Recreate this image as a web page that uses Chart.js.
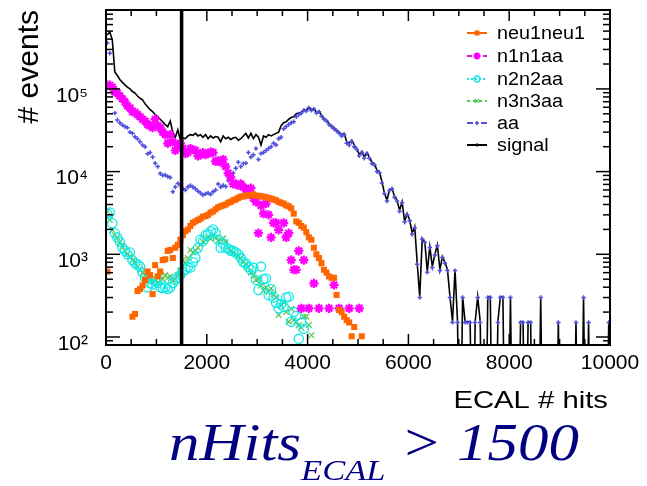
<!DOCTYPE html>
<html>
<head>
<meta charset="utf-8">
<script src="https://cdn.jsdelivr.net/npm/chart.js@4.4.1/dist/chart.umd.min.js"></script>
<style>
  html, body { margin: 0; padding: 0; background: #fff; }
  #wrap { position: relative; width: 647px; height: 486px; }
  #cut {
    position: absolute; left: 169px; top: 412px;
    font: italic 53px "Liberation Serif", "Times New Roman", serif;
    color: #000080; white-space: nowrap; line-height: 61px;
    transform: scaleX(1.15); transform-origin: left top;
  }
  #cut sub { font-size: 30px; vertical-align: baseline; position: relative; top: 20px; }
</style>
</head>
<body>
<div id="wrap">
  <canvas id="chart" width="647" height="486"></canvas>
  <div id="cut">nHits<sub>ECAL</sub> &gt; 1500</div>
</div>
<script>
// histogram bins: 50 hits wide, first bin centred at 25
var binStart = 25;
var binWidth = 50;
var cutHits = 1500;
var xTicks = [0, 2000, 4000, 6000, 8000, 10000];
var yTicks = [100, 1000, 10000, 100000];
// empty bins can't sit on a log axis: draw them far below the frame (clipped)
var emptyBin = 1;

var neu1neu1 = [
  617, null, null, null, null, null, null, null, null, null,
  176, 190, 360, 380, 420, 490, 620, 560, 330, 740,
  540, 620, 850, 870, 1100, 1130, 900, 1200, 1300, 1500,
  1700, 1900, 2000, 2200, 2400, 2500, 2600, 2700, 2850, 2900,
  3000, 3200, 3300, 3500, 3700, 3800, 3900, 4000, 4200, 4300,
  4500, 4600, 4800, 5000, 5000, 5100, 5200, 5200, 5300, 5100,
  5100, 5000, 5000, 4900, 4800, 4700, 4600, 4500, 4300, 4200,
  4100, 3900, 3800, 3600, 3100, 2500, 2400, 2200, 2100, 1850,
  1600, 1500, 1200, 1000, 900, 780, 650, 600, 540, 520,
  520, 322, 212, 200, 176, 160, 150, 102, 132, null,
  null, 102
];

var n1n1aa = [
  1.11e5, 1.11e5, 1.05e5, 9.2e4, 8.9e4, 8.2e4, 7.6e4, 7.0e4, 6.2e4, 5.9e4,
  5.3e4, 5.2e4, 4.9e4, 4.6e4, 4.3e4, 4.1e4, 3.7e4, 3.6e4, 3.4e4, 4.3e4,
  3.6e4, 3.4e4, 3.0e4, 2.8e4, 2.2e4, 2.8e4, 2.3e4, 1.8e4, 2.1e4, 2.2e4,
  1.9e4, 1.65e4, 1.7e4, 1.9e4, 1.85e4, 1.8e4, 1.55e4, 1.6e4, 1.7e4, 1.6e4,
  1.65e4, 1.73e4, 1.7e4, 1.33e4, 1.35e4, 1.3e4, 1.4e4, 1.15e4, 9600, 8500,
  7100, 7100, 6800, 7100, 6500, 6100, 6000, 6300, 4800, 4300,
  1800, 3900, 3100, 4100, 3000, 1600, 2400, 2400, 1970, null,
  2400, 1600, 1800, 850, 650, 650, 1100, 222, 850, null,
  222, null, 445, null, 222, null, null, null, 222, null,
  425, null, 222, null, null, null, 222, null, null, null,
  222
];

var n2n2aa = [
  3100, 3200, 2370, 1800, 1600, 1420, 1200, 1100, 1000, 1050,
  850, 780, 760, 710, 600, 515, 400, 450, 430, 480,
  450, 400, 390, 400, 380, 400, 450, 490, 520, 560,
  620, 650, 700, 690, 800, 900, 1200, 1500, 1450, 1700,
  1750, 1900, 2000, 1800, 1500, 1200, 1350, 1200, 1170, 1100,
  1100, 1050, 1000, 900, 800, 780, 700, 650, 690, 490,
  370, 710, 500, 510, 322, 380, 300, 260, 222, 250,
  230, 300, 307, 153, 200, 180, 95, 150, 126
];

var n3n3aa = [
  3300, 2600, 1970, 1700, 1600, 1400, 1250, 1100, 1000, 950,
  850, 800, 700, 650, 600, 560, 520, 480, 470, 500,
  450, 540, 500, 560, 520, 540, 480, 500, 560, 640,
  853, 780, 900, 1130, 1050, 1100, 1200, 1300, 1420, 1500,
  1600, 1550, 1650, 1600, 1450, 1500, 1560, 1400, 1200, 1100,
  1050, 1000, 950, 900, 800, 760, 700, 600, 560, 490,
  500, 420, 365, 400, 350, 387, 330, 300, 185, 240,
  260, 200, 153, 220, 160, 153, 140, 130, 176, 176,
  140, 105
];

var aa = [
  3.6e5, 2.7e5, 1.1e5, 5.1e4, 4.2e4, 3.9e4, 3.66e4, 3.5e4, 3.4e4, 3.0e4,
  2.9e4, 2.64e4, 2.5e4, 2.3e4, 2.1e4, 2.0e4, 1.64e4, 1.7e4, 1.5e4, 1.26e4,
  1.15e4, 9500, 9000, 9100, 8700, 8500, 5700, 6500, 7200, 6800,
  6200, 6000, 6500, 6800, 6500, 6200, 5800, 5500, 5200, 5400,
  5500, 5300, 5700, 6000, 7100, 6500, 6800, 6600, 7800, 8500,
  9600, 1.1e4, 1.3e4, 1.15e4, 1.25e4, 1.26e4, 1.7e4, 1.5e4, 1.6e4, 1.9e4,
  1.4e4, 1.65e4, 1.7e4, 1.8e4, 1.9e4, 2.0e4, 2.2e4, 2.1e4, 2.5e4, 2.6e4,
  3.3e4, 3.5e4, 3.7e4, 3.9e4, 4.0e4, 4.6e4, 4.9e4, 5.1e4, 5.5e4, 5.4e4,
  5.9e4, 5.5e4, 5.7e4, 5.1e4, 5.3e4, 4.7e4, 4.3e4, 4.1e4, 3.7e4, 3.5e4,
  3.3e4, 3.1e4, 2.9e4, 2.7e4, 2.8e4, 2.2e4, 2.1e4, 2.3e4, 2.0e4, 1.85e4,
  1.55e4, 1.7e4, 1.45e4, 1.65e4, 1.45e4, 1.25e4, 1.2e4, 1.0e4, 9700, 7300,
  5400, 4400, 5900, 6200, 4900, 4400, 3300, 4200, 2450, 3000,
  2550, 1750, 2100, 760, 300, 1520, 1390, 605, 1210, 690,
  980, 1270, 635, 915, 780, 635, 300, 150, 635, 150,
  null, 300, 150, 150, 150, null, 150, 300, 150, null,
  null, 300, 300, null, null, 150, 300, 300, null, null,
  300, null, null, null, 150, 150, null, 150, 150, null,
  null, null, 300, null, null, null, null, null, null, 150,
  null, null, null, null, null, null, 150, null, null, 300,
  null, 150, null, null, null, null, null, null, null, 150
];

var signal = [
  4.5e5, 4.9e5, 3.9e5, 1.6e5, 1.45e5, 1.3e5, 1.2e5, 1.12e5, 1.05e5, 1.0e5,
  9.3e4, 8.9e4, 8.2e4, 7.7e4, 7.4e4, 6.6e4, 6.1e4, 5.6e4, 5.3e4, 4.9e4,
  4.6e4, 4.3e4, 4.0e4, 3.7e4, 3.5e4, 4.1e4, 3.0e4, 2.6e4, 3.2e4, 2.4e4,
  2.55e4, 2.5e4, 2.7e4, 2.8e4, 2.75e4, 2.9e4, 2.7e4, 2.8e4, 2.6e4, 2.8e4,
  2.5e4, 2.7e4, 2.55e4, 2.65e4, 2.6e4, 2.3e4, 2.7e4, 2.5e4, 2.6e4, 2.45e4,
  2.55e4, 2.6e4, 2.4e4, 2.5e4, 2.7e4, 2.9e4, 2.55e4, 2.9e4, 2.5e4, 2.8e4,
  2.6e4, 2.1e4, 2.7e4, 2.6e4, 2.8e4, 2.7e4, 2.8e4, 2.9e4, 3.0e4, 3.6e4,
  3.9e4, 4.0e4, 4.3e4, 4.5e4, 4.6e4, 5.0e4, 5.1e4, 5.2e4, 5.6e4, 5.5e4,
  6.0e4, 5.6e4, 5.8e4, 5.2e4, 5.4e4, 4.8e4, 4.4e4, 4.2e4, 3.8e4, 3.6e4,
  3.4e4, 3.2e4, 3.0e4, 2.8e4, 2.9e4, 2.3e4, 2.2e4, 2.4e4, 2.1e4, 1.9e4,
  1.6e4, 1.75e4, 1.5e4, 1.7e4, 1.5e4, 1.3e4, 1.25e4, 1.04e4, 1.0e4, 7500,
  5500, 4500, 6000, 6300, 5000, 4500, 3400, 4300, 2500, 3100,
  2600, 1800, 2160, 780, 307, 1560, 1420, 620, 1240, 710,
  1000, 1300, 650, 935, 800, 650, 307, 153, 650, 153,
  0, 307, 153, 153, 153, 0, 153, 307, 153, 0,
  0, 307, 307, 0, 0, 153, 307, 307, 0, 0,
  307, 0, 0, 0, 153, 153, 0, 153, 153, 0,
  0, 0, 307, 0, 0, 0, 0, 0, 0, 153,
  0, 0, 0, 0, 0, 0, 153, 0, 0, 307,
  0, 153, 0, 0, 0, 0, 0, 0, 0, 153
];

var sansFont = "'Liberation Sans', Arial, Helvetica, sans-serif";
var supDigits = { 1: '\u00b9', 2: '\u00b2', 3: '\u00b3', 4: '\u2074', 5: '\u2075', 6: '\u2076' };

function toBins(values) {
  return values.map(function(v, i) {
    return { x: binStart + i * binWidth, y: v === 0 ? emptyBin : v };
  });
}

// ROOT style frame: inward ticks on all four sides, cut line, titles, legend
var rootFrame = {
  id: 'rootFrame',
  afterDatasetsDraw: function(chart) {
    var ctx = chart.ctx, a = chart.chartArea;
    var xs = chart.scales.x, ys = chart.scales.y;
    ctx.save();
    ctx.strokeStyle = '#000';

    function seg(x1, y1, x2, y2) {
      ctx.beginPath();
      ctx.moveTo(x1, y1);
      ctx.lineTo(x2, y2);
      ctx.stroke();
    }

    var xc = xs.getPixelForValue(cutHits);
    ctx.lineWidth = 3.5;
    seg(xc, a.top, xc, a.bottom);

    ctx.lineWidth = 2;
    ctx.strokeRect(a.left, a.top, a.right - a.left, a.bottom - a.top);

    ctx.lineWidth = 1.5;
    for (var v = xs.min; v <= xs.max; v += 500) {
      var px = xs.getPixelForValue(v);
      var len = v % 2000 === 0 ? 11 : 6;
      seg(px, a.bottom, px, a.bottom - len);
      seg(px, a.top, px, a.top + len);
    }
    for (var e = 1; e <= 5; e++) {
      for (var m = 1; m <= 9; m++) {
        var val = m * Math.pow(10, e);
        if (val < ys.min || val > ys.max) continue;
        var py = ys.getPixelForValue(val);
        var tl = m === 1 ? 14 : 7;
        seg(a.left, py, a.left + tl, py);
        seg(a.right, py, a.right - tl, py);
      }
    }
    ctx.restore();
  },
  afterDraw: function(chart) {
    var ctx = chart.ctx;
    ctx.save();
    ctx.fillStyle = '#000';

    // y title
    ctx.save();
    ctx.translate(38, 10);
    ctx.rotate(-Math.PI / 2);
    ctx.font = '30px ' + sansFont;
    ctx.textAlign = 'right';
    ctx.textBaseline = 'alphabetic';
    ctx.fillText('# events', 0, 0);
    ctx.restore();

    // x title
    ctx.save();
    ctx.translate(608, 408);
    ctx.scale(1.22, 1);
    ctx.font = '24px ' + sansFont;
    ctx.textAlign = 'right';
    ctx.textBaseline = 'alphabetic';
    ctx.fillText('ECAL # hits', 0, 0);
    ctx.restore();

    // legend
    var rows = [33, 56, 79, 101, 123, 145];
    chart.data.datasets.forEach(function(ds, i) {
      var y = rows[i];
      ctx.save();
      ctx.strokeStyle = ds.borderColor;
      ctx.lineWidth = 2;
      ctx.setLineDash(ds.legendDash);
      ctx.beginPath();
      ctx.moveTo(467, y);
      ctx.lineTo(487, y);
      ctx.stroke();
      ctx.setLineDash([]);
      if (Chart.helpers && Chart.helpers.drawPoint && ds.legendRadius > 0) {
        ctx.fillStyle = ds.backgroundColor;
        ctx.lineWidth = ds.pointBorderWidth;
        Chart.helpers.drawPoint(ctx, {
          pointStyle: ds.legendStyle,
          radius: ds.legendRadius,
          rotation: 0,
          borderWidth: ds.pointBorderWidth
        }, 477, y);
      }
      ctx.restore();

      ctx.save();
      ctx.translate(497, y);
      ctx.scale(1.1, 1);
      ctx.font = '18px ' + sansFont;
      ctx.textBaseline = 'middle';
      ctx.fillStyle = '#000';
      ctx.fillText(ds.label, 0, 1);
      ctx.restore();
    });
    ctx.restore();
  }
};

Chart.defaults.color = '#000';

var ctx = document.getElementById('chart').getContext('2d');
new Chart(ctx, {
  type: 'line',
  data: {
    datasets: [
      {
        label: 'neu1neu1',
        data: toBins(neu1neu1),
        showLine: false,
        pointStyle: 'rect',
        pointRadius: 4.3,
        pointBorderWidth: 0,
        backgroundColor: '#ff6600',
        borderColor: '#ff6600',
        legendDash: [],
        legendStyle: 'rect',
        legendRadius: 3.5
      },
      {
        label: 'n1n1aa',
        data: toBins(n1n1aa),
        showLine: false,
        pointStyle: 'star',
        pointRadius: 4.6,
        pointBorderWidth: 2.2,
        backgroundColor: '#ff00ff',
        borderColor: '#ff00ff',
        legendDash: [5, 3],
        legendStyle: 'star',
        legendRadius: 3.5
      },
      {
        label: 'n2n2aa',
        data: toBins(n2n2aa),
        showLine: false,
        pointStyle: 'circle',
        pointRadius: 4.6,
        pointBorderWidth: 1.3,
        backgroundColor: 'rgba(0,0,0,0)',
        borderColor: '#10e8e8',
        legendDash: [2, 2],
        legendStyle: 'circle',
        legendRadius: 3
      },
      {
        label: 'n3n3aa',
        data: toBins(n3n3aa),
        showLine: false,
        pointStyle: 'crossRot',
        pointRadius: 4,
        pointBorderWidth: 1.2,
        backgroundColor: '#55c455',
        borderColor: '#55c455',
        legendDash: [3, 3],
        legendStyle: 'crossRot',
        legendRadius: 3
      },
      {
        label: 'aa',
        data: toBins(aa),
        showLine: false,
        pointStyle: 'cross',
        pointRadius: 2.2,
        pointBorderWidth: 1.5,
        backgroundColor: '#4f4fe0',
        borderColor: '#4f4fe0',
        legendDash: [6, 3, 2, 3],
        legendStyle: 'cross',
        legendRadius: 2
      },
      {
        label: 'signal',
        data: toBins(signal),
        showLine: true,
        pointRadius: 0,
        borderColor: '#000000',
        backgroundColor: '#000000',
        borderWidth: 1.6,
        pointBorderWidth: 1,
        tension: 0,
        legendDash: [],
        legendStyle: 'cross',
        legendRadius: 2
      }
    ]
  },
  options: {
    responsive: false,
    animation: false,
    events: [],
    layout: { padding: { top: 10, right: 37, bottom: 101, left: 0 } },
    plugins: {
      legend: { display: false },
      tooltip: { enabled: false }
    },
    scales: {
      x: {
        type: 'linear',
        min: 0,
        max: 10000,
        grid: { display: false, drawTicks: false },
        border: { display: false },
        afterBuildTicks: function(s) {
          s.ticks = xTicks.map(function(v) { return { value: v }; });
        },
        afterFit: function(s) {
          s.height = 40;
          s.paddingLeft = 0;
          s.paddingRight = 0;
        },
        ticks: {
          autoSkip: false,
          maxRotation: 0,
          padding: 6,
          font: { size: 21, family: sansFont },
          callback: function(value) { return String(value); }
        }
      },
      y: {
        type: 'logarithmic',
        min: 80,
        max: 9e5,
        grid: { display: false, drawTicks: false },
        border: { display: false },
        afterBuildTicks: function(s) {
          s.ticks = yTicks.map(function(v) { return { value: v }; });
        },
        afterFit: function(s) {
          s.width = 106;
          s.paddingTop = 0;
          s.paddingBottom = 0;
        },
        ticks: {
          autoSkip: false,
          padding: 18,
          labelOffset: 7,
          font: { size: 21, family: sansFont },
          callback: function(value) {
            var e = Math.round(Math.log10(value));
            return '10' + supDigits[e];
          }
        }
      }
    }
  },
  plugins: [rootFrame]
});
</script>
</body>
</html>
